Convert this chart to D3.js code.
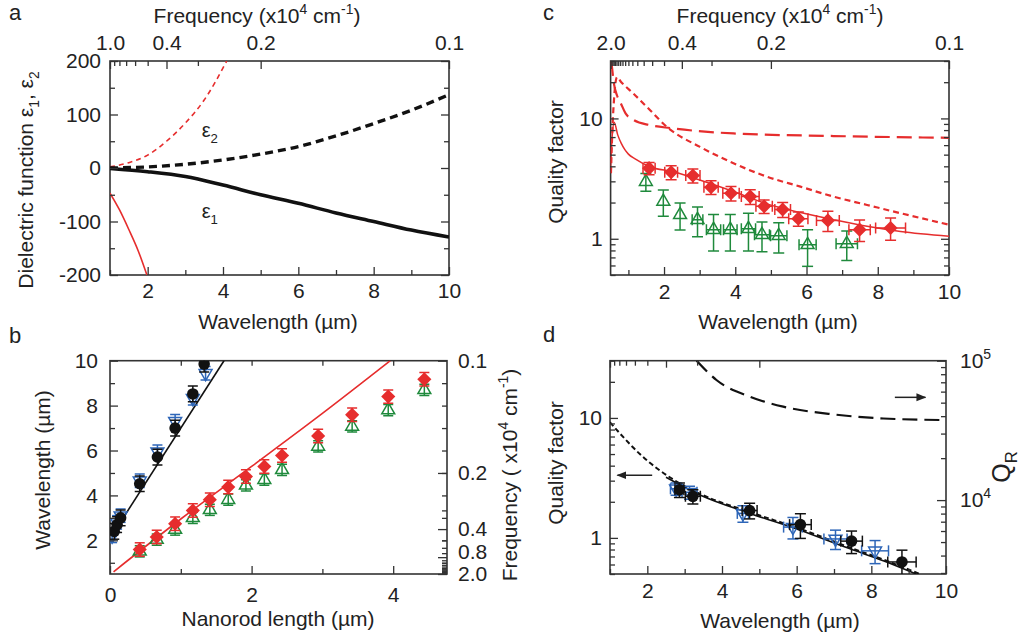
<!DOCTYPE html>
<html>
<head>
<meta charset="utf-8">
<script src="https://cdn.jsdelivr.net/npm/d3@7"></script>
<style>
  body { margin: 0; background: #fff; }
  text { font-family: "Liberation Sans", Arial, Helvetica, sans-serif; fill: #222; }
</style>
</head>
<body>
<div id="chart"></div>
<script>
// ---------- panel a : dielectric function ----------
const aWave = [1, 2, 3, 4, 5, 6, 7, 8, 9, 10];
const aEps1 = [-1, -7, -16, -32, -50, -66, -84, -100, -116, -129];
const aEps2 = [0, 2, 7, 15, 26, 40, 60, 83, 108, 137];
const aRedWave1 = [1, 1.25, 1.5, 1.75, 1.98];
const aRedEps1 = [-47, -78, -115, -155, -200];
const aRedWave2 = [1, 1.5, 2, 2.5, 3, 3.5, 4.1];
const aRedEps2 = [2, 10, 24, 50, 84, 127, 200];

// ---------- panel b : resonance wavelength vs nanorod length ----------
const bBlackLen  = [0.06, 0.10, 0.15, 0.42, 0.67, 0.92, 1.17, 1.33];
const bBlackWave = [2.40, 2.70, 3.00, 4.52, 5.71, 7.00, 8.52, 9.85];
const bBlueLen   = [0.03, 0.10, 0.15, 0.42, 0.67, 0.92, 1.17, 1.35];
const bBlueWave  = [2.20, 2.80, 3.10, 4.65, 5.95, 7.30, 8.33, 9.44];
const bRedLen    = [0.42, 0.66, 0.92, 1.17, 1.41, 1.67, 1.92, 2.18, 2.43, 2.94, 3.42, 3.93, 4.44];
const bRedWave   = [1.59, 2.15, 2.74, 3.33, 3.81, 4.37, 4.84, 5.29, 5.78, 6.65, 7.59, 8.40, 9.17];
const bGreenWave = [1.51, 2.03, 2.48, 3.00, 3.36, 3.81, 4.45, 4.70, 5.14, 6.18, 7.07, 7.80, 8.70];
const bBlackFitLen = [0.04, 1.61];
const bBlackFitWave = [2.28, 10];
const bRedFitLen = [0.05, 1, 2, 3, 3.96];
const bRedFitWave = [0.6, 2.95, 5.29, 7.65, 10];

// ---------- panel c : quality factor ----------
const cRedWave = [1.58, 2.20, 2.81, 3.32, 3.88, 4.42, 4.81, 5.33, 5.77, 6.60, 7.49, 8.36];
const cRedQ    = [3.86, 3.57, 3.35, 2.68, 2.39, 2.24, 1.86, 1.75, 1.47, 1.42, 1.19, 1.23];
const cRedXerr = [0.17, 0.18, 0.20, 0.20, 0.23, 0.25, 0.23, 0.22, 0.27, 0.32, 0.30, 0.42];
const cRedYerr = [0.45, 0.47, 0.45, 0.35, 0.33, 0.31, 0.24, 0.25, 0.20, 0.27, 0.24, 0.26];
const cGreenWave = [1.49, 1.98, 2.45, 2.94, 3.39, 3.86, 4.37, 4.75, 5.22, 6.03, 7.13];
const cGreenQ    = [2.98, 2.04, 1.58, 1.44, 1.19, 1.19, 1.21, 1.08, 1.06, 0.89, 0.91];
const cGreenXerr = [0, 0, 0, 0.15, 0.20, 0.19, 0.20, 0.21, 0.23, 0.24, 0.30];
const cGreenYerr = [0.50, 0.50, 0.40, 0.40, 0.40, 0.40, 0.42, 0.30, 0.30, 0.30, 0.25];
const cSolidWave = [0.5, 0.55, 0.6, 0.7, 0.8, 0.9, 1.0, 1.2, 1.6, 2.26, 3.0, 3.95, 4.89, 5.83, 6.76, 7.7, 8.64, 10];
const cSolidQ    = [4.0, 7.5, 9.3, 7.3, 6.2, 5.5, 5.05, 4.6, 3.97, 3.6, 3.08, 2.47, 1.95, 1.65, 1.44, 1.27, 1.15, 1.05];
const cShortWave = [0.51, 0.55, 0.6, 0.68, 0.8, 1.14, 1.61, 2.08, 3.01, 3.95, 4.89, 5.83, 6.76, 7.7, 8.64, 10];
const cShortQ    = [3.5, 8, 15, 22, 20, 16.1, 11.7, 8.5, 5.8, 4.24, 3.28, 2.71, 2.24, 1.91, 1.63, 1.31];
const cLongWave  = [0.52, 0.6, 0.68, 0.78, 0.92, 1.15, 1.6, 2.2, 3.95, 6.76, 10];
const cLongQ     = [30, 19, 15.5, 13.5, 11, 9.7, 8.8, 8.3, 7.5, 7.14, 6.9];

// ---------- panel d : quality factor and radiative Q ----------
const dBlackWave = [2.86, 3.22, 4.74, 6.10, 7.47, 8.82];
const dBlackQ    = [2.52, 2.22, 1.69, 1.29, 0.94, 0.63];
const dBlackXerr = [0.12, 0.20, 0.20, 0.29, 0.29, 0.38];
const dBlackYerr = [0.35, 0.30, 0.25, 0.30, 0.20, 0.16];
const dBlueWave  = [2.77, 3.13, 4.56, 5.90, 7.04, 8.10];
const dBlueQ     = [2.57, 2.40, 1.60, 1.23, 0.98, 0.78];
const dBlueXerr  = [0.15, 0.20, 0.15, 0.25, 0.31, 0.36];
const dBlueYerr  = [0.30, 0.30, 0.25, 0.25, 0.18, 0.17];
const dDashWave  = [1, 1.27, 1.8, 2.7, 3.41, 4.75, 6.09, 7.43, 8.32, 9.3];
const dDashQ     = [9.2, 7.4, 5.0, 3.06, 2.33, 1.64, 1.19, 0.83, 0.66, 0.5];
const dSolidWave = [2.5, 3.41, 4.75, 6.09, 7.43, 8.32, 9.2];
const dSolidQ    = [3.2, 2.28, 1.6, 1.16, 0.81, 0.645, 0.5];
const dQrWave    = [3.32, 3.85, 4.75, 5.64, 6.98, 8.32, 10];
const dQr        = [100000, 72700, 55200, 46800, 41200, 38500, 37500];

const RED = '#e62d2d', GREEN = '#1f8a3c', BLUE = '#2e66b8', INK = '#222', FRAME = '#333';

const svg = d3.select('#chart').append('svg')
    .attr('width', 1026)
    .attr('height', 640);
const defs = svg.append('defs');
defs.append('marker')
    .attr('id', 'arrow')
    .attr('viewBox', '0 0 10 10')
    .attr('refX', 9).attr('refY', 5)
    .attr('markerWidth', 10).attr('markerHeight', 10)
    .attr('markerUnits', 'userSpaceOnUse')
    .attr('orient', 'auto')
    .append('path')
    .attr('d', 'M0,1 L10,5 L0,9 Z')
    .attr('fill', INK);

// ---------- helpers ----------
function frame(b, id) {
    defs.append('clipPath').attr('id', id)
        .append('rect')
        .attr('x', b.x0).attr('y', b.y0)
        .attr('width', b.x1 - b.x0).attr('height', b.y1 - b.y0);
    svg.append('rect')
        .attr('x', b.x0).attr('y', b.y0)
        .attr('width', b.x1 - b.x0).attr('height', b.y1 - b.y0)
        .attr('fill', 'none')
        .attr('stroke', FRAME)
        .attr('stroke-width', 1.6);
    return svg.append('g').attr('clip-path', `url(#${id})`);
}

function ticks(gen, tx, ty, vals, len, pad, fmt) {
    const g = svg.append('g')
        .attr('transform', `translate(${tx},${ty})`)
        .call(gen.tickValues(vals).tickSize(-len).tickPadding(pad).tickFormat(fmt || (() => '')));
    g.attr('font-family', null).attr('font-size', null);
    g.select('.domain').remove();
    g.selectAll('.tick line').attr('stroke', FRAME).attr('stroke-width', 1.3);
    g.selectAll('.tick text').attr('font-size', 21).attr('fill', INK);
    return g;
}

function rich(x, y, parts, size, rot) {
    const t = svg.append('text')
        .attr('font-size', size)
        .attr('text-anchor', 'middle')
        .attr('transform', `translate(${x},${y})` + (rot ? ` rotate(${rot})` : ''));
    let off = 0;
    parts.forEach(p => {
        const [s, k] = Array.isArray(p) ? p : [p, null];
        const target = k === 'sup' ? -0.42 * size : k === 'sub' ? 0.28 * size : 0;
        t.append('tspan')
            .attr('dy', target - off)
            .attr('font-size', k ? size * 0.66 : size)
            .text(s);
        off = target;
    });
    return t;
}

function curve(g, xs, ys, X, Y, color, width, dash, smooth) {
    g.append('path')
        .datum(d3.zip(xs, ys))
        .attr('d', d3.line()
            .x(d => X(d[0])).y(d => Y(d[1]))
            .curve(smooth === false ? d3.curveLinear : d3.curveMonotoneX))
        .attr('fill', 'none')
        .attr('stroke', color)
        .attr('stroke-width', width)
        .attr('stroke-dasharray', dash || null);
}

function errY(g, xs, ys, es, X, Y, color, cap) {
    xs.forEach((x, i) => {
        const px = X(x), lo = Y(ys[i] - es[i]), hi = Y(ys[i] + es[i]);
        g.append('line').attr('x1', px).attr('x2', px).attr('y1', lo).attr('y2', hi)
            .attr('stroke', color).attr('stroke-width', 1.5);
        [lo, hi].forEach(py => g.append('line')
            .attr('x1', px - cap).attr('x2', px + cap).attr('y1', py).attr('y2', py)
            .attr('stroke', color).attr('stroke-width', 1.5));
    });
}

function errX(g, xs, ys, es, X, Y, color, cap) {
    xs.forEach((x, i) => {
        if (!es[i]) return;
        const py = Y(ys[i]), lo = X(x - es[i]), hi = X(x + es[i]);
        g.append('line').attr('x1', lo).attr('x2', hi).attr('y1', py).attr('y2', py)
            .attr('stroke', color).attr('stroke-width', 1.5);
        [lo, hi].forEach(px => g.append('line')
            .attr('x1', px).attr('x2', px).attr('y1', py - cap).attr('y2', py + cap)
            .attr('stroke', color).attr('stroke-width', 1.5));
    });
}

function marks(g, xs, ys, X, Y, kind, color) {
    const sym = d3.symbol();
    xs.forEach((x, i) => {
        const px = X(x), py = Y(ys[i]);
        if (kind === 'circle') {
            g.append('circle').attr('cx', px).attr('cy', py).attr('r', 5.8).attr('fill', color);
        } else if (kind === 'diamond') {
            g.append('path').attr('d', sym.type(d3.symbolSquare).size(100)())
                .attr('transform', `translate(${px},${py}) rotate(45)`)
                .attr('fill', color);
        } else {
            g.append('path').attr('d', sym.type(d3.symbolTriangle).size(72)())
                .attr('transform', `translate(${px},${py})` + (kind === 'down' ? ' rotate(180)' : ''))
                .attr('fill', 'none').attr('stroke', color).attr('stroke-width', 1.5);
        }
    });
}

const num = d => String(d);
const fix1 = d => d.toFixed(1);
const range = (a, b, s) => d3.range(a, b + s / 2, s).map(v => +v.toFixed(3));

// ================= panel a =================
const A = {x0: 110, x1: 449, y0: 61, y1: 275};
const xa = d3.scaleLinear().domain([1, 10]).range([A.x0, A.x1]);
const ya = d3.scaleLinear().domain([-200, 200]).range([A.y1, A.y0]);
const fa = d3.scalePow().exponent(-1).domain([1.0, 0.1]).range([A.x0, A.x1]);
const ga = frame(A, 'clipA');

ticks(d3.axisBottom(xa), 0, A.y1, [2, 4, 6, 8, 10], 8, 8, num);
ticks(d3.axisBottom(xa), 0, A.y1, [1, 3, 5, 7, 9], 5, 0);
ticks(d3.axisTop(fa), 0, A.y0, [1.0, 0.4, 0.2, 0.1], 8, 11, fix1);
ticks(d3.axisTop(fa), 0, A.y0, [0.9, 0.8, 0.7, 0.6, 0.5, 0.3], 5, 0);
ticks(d3.axisLeft(ya), A.x0, 0, [-200, -100, 0, 100, 200], 8, 9, num);
ticks(d3.axisLeft(ya), A.x0, 0, [-150, -50, 50, 150], 5, 0);
ticks(d3.axisRight(ya), A.x1, 0, [-200, -100, 0, 100, 200], 8, 0);
ticks(d3.axisRight(ya), A.x1, 0, [-150, -50, 50, 150], 5, 0);

curve(ga, aRedWave1, aRedEps1, xa, ya, RED, 1.6);
curve(ga, aRedWave2, aRedEps2, xa, ya, RED, 1.6, '5,4');
curve(ga, aWave, aEps2, xa, ya, '#111', 3.4, '8,5');
curve(ga, aWave, aEps1, xa, ya, '#111', 3.6);

rich(xa(3.65), ya(58), ['ε', ['2', 'sub']], 20);
rich(xa(3.65), ya(-94), ['ε', ['1', 'sub']], 20);

rich(257, 23, ['Frequency (x10', ['4', 'sup'], ' cm', ['-1', 'sup'], ')'], 21);
rich(33, 180, ['Dielectric function ε', ['1', 'sub'], ', ε', ['2', 'sub']], 21, -90);
rich(278, 329, ['Wavelength (µm)'], 21);

// ================= panel b =================
const B = {x0: 110, x1: 447, y0: 360.7, y1: 574};
const xb = d3.scaleLinear().domain([0, 4.76]).range([B.x0, B.x1]);
const yb = d3.scaleLinear().domain([0.5, 10]).range([B.y1, B.y0]);
const fb = d3.scalePow().exponent(-1).domain([0.1, 2.0]).range([B.y0, B.y1]);
const gb = frame(B, 'clipB');

ticks(d3.axisBottom(xb), 0, B.y1, [0, 2, 4], 8, 13, num);
ticks(d3.axisBottom(xb), 0, B.y1, [1, 3], 5, 0);
ticks(d3.axisTop(xb), 0, B.y0, [1, 2, 3, 4], 5, 0);
ticks(d3.axisLeft(yb), B.x0, 0, [2, 4, 6, 8, 10], 8, 12, num);
ticks(d3.axisLeft(yb), B.x0, 0, [1, 3, 5, 7, 9], 5, 0);
ticks(d3.axisRight(yb), B.x1, 0, [1, 2, 3, 4, 5, 6, 7, 8, 9], 5, 0);
const bRight = ticks(d3.axisRight(fb), B.x1, 0, [0.1, 0.2, 0.4, 0.8, 2.0], 9, 11, fix1);
bRight.selectAll('.tick text').filter(d => d === 0.8).attr('dy', '0.05em');
ticks(d3.axisRight(fb), B.x1, 0,
    [0.3, 0.5, 0.6, 0.7, 0.9, ...range(1.0, 1.9, 0.1)], 5, 0);

curve(gb, bBlackFitLen, bBlackFitWave, xb, yb, '#111', 1.6, null, false);
curve(gb, bRedFitLen, bRedFitWave, xb, yb, RED, 1.6);

errY(gb, bBlueLen, bBlueWave, bBlueLen.map(() => 0.3), xb, yb, BLUE, 5);
marks(gb, bBlueLen, bBlueWave, xb, yb, 'down', BLUE);
errY(gb, bBlackLen, bBlackWave, bBlackLen.map(() => 0.35), xb, yb, '#111', 5);
marks(gb, bBlackLen, bBlackWave, xb, yb, 'circle', '#111');
errY(gb, bRedLen, bGreenWave, bRedLen.map(() => 0.25), xb, yb, GREEN, 5);
marks(gb, bRedLen, bGreenWave, xb, yb, 'up', GREEN);
errY(gb, bRedLen, bRedWave, bRedLen.map(() => 0.3), xb, yb, RED, 5);
marks(gb, bRedLen, bRedWave, xb, yb, 'diamond', RED);

rich(50, 470, ['Wavelength (µm)'], 21, -90);
rich(517, 475, ['Frequency ( x10', ['4', 'sup'], ' cm', ['-1', 'sup'], ')'], 21, -90);
rich(278, 626, ['Nanorod length (µm)'], 21);

// ================= panel c =================
const C = {x0: 610.6, x1: 949, y0: 61, y1: 275};
const xc = d3.scaleLinear().domain([0.5, 10]).range([C.x0, C.x1]);
const yc = d3.scaleLog().domain([0.5, 30]).range([C.y1, C.y0]);
const fc = d3.scalePow().exponent(-1).domain([2.0, 0.1]).range([C.x0, C.x1]);
const gc = frame(C, 'clipC');
const logMinor = [0.5, 0.6, 0.7, 0.8, 0.9, 2, 3, 4, 5, 6, 7, 8, 9, 20, 30];

ticks(d3.axisBottom(xc), 0, C.y1, [2, 4, 6, 8, 10], 8, 9, num);
ticks(d3.axisBottom(xc), 0, C.y1, [1, 3, 5, 7, 9], 5, 0);
ticks(d3.axisTop(fc), 0, C.y0, [2.0, 0.4, 0.2, 0.1], 8, 11, fix1);
ticks(d3.axisTop(fc), 0, C.y0, [...range(1.0, 1.9, 0.1), 0.9, 0.8, 0.7, 0.6, 0.5, 0.3], 5, 0);
ticks(d3.axisLeft(yc), C.x0, 0, [1, 10], 8, 8, num);
ticks(d3.axisLeft(yc), C.x0, 0, logMinor, 5, 0);
ticks(d3.axisRight(yc), C.x1, 0, [1, 10], 8, 0);
ticks(d3.axisRight(yc), C.x1, 0, logMinor, 5, 0);

curve(gc, cLongWave, cLongQ, xc, yc, RED, 2.2, '15,7');
curve(gc, cShortWave, cShortQ, xc, yc, RED, 2.2, '6,4');
curve(gc, cSolidWave, cSolidQ, xc, yc, RED, 1.5);

errY(gc, cGreenWave, cGreenQ, cGreenYerr, xc, yc, GREEN, 5.5);
errX(gc, cGreenWave, cGreenQ, cGreenXerr, xc, yc, GREEN, 5.5);
marks(gc, cGreenWave, cGreenQ, xc, yc, 'up', GREEN);
errY(gc, cRedWave, cRedQ, cRedYerr, xc, yc, RED, 5.5);
errX(gc, cRedWave, cRedQ, cRedXerr, xc, yc, RED, 5.5);
marks(gc, cRedWave, cRedQ, xc, yc, 'diamond', RED);

rich(780, 23, ['Frequency (x10', ['4', 'sup'], ' cm', ['-1', 'sup'], ')'], 21);
rich(563, 162, ['Quality factor'], 21, -90);
rich(778, 329, ['Wavelength (µm)'], 21);

// ================= panel d =================
const D = {x0: 610, x1: 946, y0: 360.7, y1: 574};
const xd = d3.scaleLinear().domain([1, 10]).range([D.x0, D.x1]);
const yd = d3.scaleLog().domain([0.5, 30]).range([D.y1, D.y0]);
const qd = d3.scaleLog().domain([2950, 1e5]).range([D.y1, D.y0]);
const fd = d3.scalePow().exponent(-1).domain([1.0, 0.1]).range([D.x0, D.x1]);
const gd = frame(D, 'clipD');

ticks(d3.axisBottom(xd), 0, D.y1, [2, 4, 6, 8, 10], 8, 9, num);
ticks(d3.axisBottom(xd), 0, D.y1, [1, 3, 5, 7, 9], 5, 0);
ticks(d3.axisTop(fd), 0, D.y0, [1.0, 0.4, 0.2], 7, 0);
ticks(d3.axisTop(fd), 0, D.y0, [0.9, 0.8, 0.7, 0.6, 0.5, 0.3], 5, 0);
ticks(d3.axisLeft(yd), D.x0, 0, [1, 10], 8, 8, num);
ticks(d3.axisLeft(yd), D.x0, 0, logMinor, 5, 0);
const qRight = ticks(d3.axisRight(qd), D.x1, 0, [1e4, 1e5], 9, 14, () => '');
qRight.selectAll('.tick text').each(function (d) {
    const t = d3.select(this);
    t.append('tspan').text('10');
    t.append('tspan').attr('dy', -9).attr('font-size', 14).text(Math.round(Math.log10(d)));
});
ticks(d3.axisRight(qd), D.x1, 0,
    [3e3, 4e3, 5e3, 6e3, 7e3, 8e3, 9e3, 2e4, 3e4, 4e4, 5e4, 6e4, 7e4, 8e4, 9e4], 5, 0);

curve(gd, dQrWave, dQr, xd, qd, '#111', 2.2, '15,7');
curve(gd, dSolidWave, dSolidQ, xd, yd, '#111', 1.6);
curve(gd, dDashWave, dDashQ, xd, yd, '#111', 2, '5,3');

errY(gd, dBlueWave, dBlueQ, dBlueYerr, xd, yd, BLUE, 5.5);
errX(gd, dBlueWave, dBlueQ, dBlueXerr, xd, yd, BLUE, 5.5);
marks(gd, dBlueWave, dBlueQ, xd, yd, 'down', BLUE);
errY(gd, dBlackWave, dBlackQ, dBlackYerr, xd, yd, '#111', 5.5);
errX(gd, dBlackWave, dBlackQ, dBlackXerr, xd, yd, '#111', 5.5);
marks(gd, dBlackWave, dBlackQ, xd, yd, 'circle', '#111');

// arrows telling which axis each curve belongs to
svg.append('line')
    .attr('x1', xd(2.13)).attr('x2', xd(1.2))
    .attr('y1', yd(3.33)).attr('y2', yd(3.33))
    .attr('stroke', INK).attr('stroke-width', 1.5)
    .attr('marker-end', 'url(#arrow)');
svg.append('line')
    .attr('x1', xd(8.63)).attr('x2', xd(9.45))
    .attr('y1', qd(54600)).attr('y2', qd(54600))
    .attr('stroke', INK).attr('stroke-width', 1.5)
    .attr('marker-end', 'url(#arrow)');

rich(563, 463, ['Quality factor'], 21, -90);
rich(1010, 467, ['Q', ['R', 'sub']], 25, -90);
rich(780, 628, ['Wavelength (µm)'], 21);

// panel letters
[['a', 9, 20], ['b', 9, 343], ['c', 543, 20], ['d', 543, 342]].forEach(([s, x, y]) =>
    svg.append('text').attr('x', x).attr('y', y).attr('font-size', 22).text(s));
</script>
</body>
</html>
